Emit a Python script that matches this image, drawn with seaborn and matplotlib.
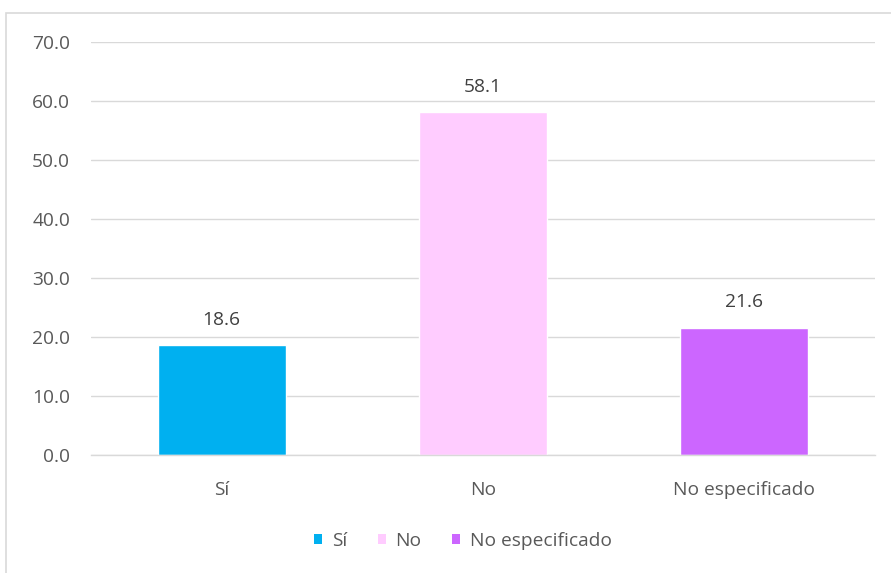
import matplotlib
matplotlib.use("Agg")
import matplotlib.pyplot as plt
import seaborn as sns
import pandas as pd
from matplotlib.patches import Patch, Rectangle

categories = ["Sí", "No", "No especificado"]
values = [18.6, 58.1, 21.6]
colors = ["#00B0F0", "#FFCCFF", "#CC66FF"]
yticks = [0, 10, 20, 30, 40, 50, 60, 70]

sns.set_theme(style="white")
plt.rcParams['font.family'] = ['Open Sans', 'DejaVu Sans']

df = pd.DataFrame({"cat": categories, "val": values})

W, H = 891, 573
fig = plt.figure(figsize=(W / 100, H / 100), dpi=100)
ax = fig.add_axes([91 / W, 1 - 455 / H, (875 - 91) / W, (455 - 42) / H])

# outer chart frame (cropped at right and bottom)
fig.patches.append(Rectangle((5.5 / W, -0.1), 1.2, 1 - 13 / H + 0.1,
                             transform=fig.transFigure, fill=False,
                             edgecolor="#D9D9D9", linewidth=1.2, zorder=0))

sns.barplot(data=df, x="cat", y="val", hue="cat", palette=colors,
            order=categories, hue_order=categories, dodge=False,
            width=0.49, legend=False, ax=ax, saturation=1)

fs = 13.8
ax.set_ylim(0, 70)
ax.set_xlim(-0.5, 2.5)
ax.set_yticks(yticks)
ax.set_yticklabels([f"{v:.1f}" for v in yticks], color="#595959", fontsize=fs)
ax.yaxis.grid(True, color="#D9D9D9", linewidth=1)
ax.set_axisbelow(True)
ax.set_xlabel("")
ax.set_ylabel("")
for s in ["top", "right", "left"]:
    ax.spines[s].set_visible(False)
ax.spines["bottom"].set_color("#D9D9D9")
ax.spines["bottom"].set_linewidth(1)
ax.tick_params(axis="y", length=0, pad=15)
ax.tick_params(axis="x", which="major", length=0, pad=19, labelsize=fs,
               labelcolor="#595959")
ax.set_xticks([-0.5, 0.5, 1.5, 2.5], minor=True)
ax.tick_params(axis="x", which="minor", length=5, color="#D9D9D9",
               direction="out", width=1)

for c in ax.containers:
    ax.bar_label(c, fmt="%.1f", padding=12, fontsize=fs, color="#404040")

handles = [Patch(facecolor=col, edgecolor="none", label=cat)
           for cat, col in zip(categories, colors)]
fig.legend(handles=handles, loc="center", bbox_to_anchor=(463 / W, 1 - 541 / H),
           ncol=3, frameon=False, fontsize=fs, handlelength=0.42,
           handleheight=0.42, handletextpad=0.5, columnspacing=1.6,
           labelcolor="#595959")

fig.savefig("out.png", dpi=100)
